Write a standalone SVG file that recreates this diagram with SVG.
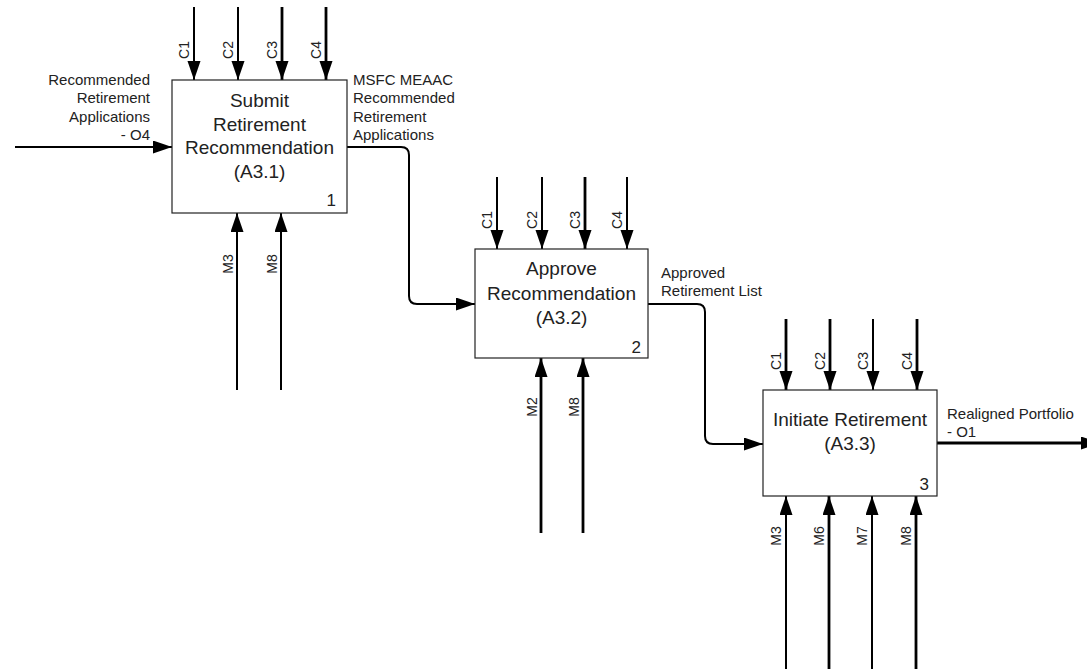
<svg xmlns="http://www.w3.org/2000/svg" width="1087" height="669" viewBox="0 0 1087 669">
<defs>
<marker id="ah" markerUnits="userSpaceOnUse" markerWidth="20" markerHeight="14" refX="19" refY="6.5" orient="auto">
<path d="M0,0 L19,6.5 L0,13 z" fill="#000"/>
</marker>
<style>
.box{fill:#fff;stroke:#222;stroke-width:1.2}
.t{font-family:"Liberation Sans",Arial,sans-serif;font-size:19px;fill:#222;text-anchor:middle}
.n{font-family:"Liberation Sans",Arial,sans-serif;font-size:17px;fill:#222;text-anchor:end}
.l{font-family:"Liberation Sans",Arial,sans-serif;font-size:15px;fill:#222}
.c{font-family:"Liberation Sans",Arial,sans-serif;font-size:14px;fill:#222;text-anchor:middle}
.a{fill:none;stroke:#000;stroke-width:2;marker-end:url(#ah)}
.k{stroke-width:2.8}
</style>
</defs>
<rect width="1087" height="669" fill="#fff"/>

<g id="connectors">
<path class="a" d="M15,147 H172"/>
<path class="a" d="M347,147 H401 Q409,147 409,155 V296 Q409,304 417,304 H475"/>
<path class="a" d="M648,304 H697 Q705,304 705,312 V436 Q705,444 713,444 H763"/>
<path class="a k" d="M937,443 H1100"/>
<!-- box 1 controls -->
<path class="a" d="M194,7 V80"/>
<path class="a" d="M238,7 V80"/>
<path class="a k" d="M282,7 V80"/>
<path class="a k" d="M326,7 V80"/>
<!-- box 1 mechanisms -->
<path class="a" d="M237,390 V213"/>
<path class="a" d="M281,390 V213"/>
<!-- box 2 controls -->
<path class="a" d="M497,177 V249"/>
<path class="a" d="M542,177 V249"/>
<path class="a k" d="M585,177 V249"/>
<path class="a" d="M627,177 V249"/>
<!-- box 2 mechanisms -->
<path class="a k" d="M541,533 V358"/>
<path class="a k" d="M583,533 V358"/>
<!-- box 3 controls -->
<path class="a k" d="M786,319 V390"/>
<path class="a k" d="M830,319 V390"/>
<path class="a" d="M873,319 V390"/>
<path class="a k" d="M917,319 V390"/>
<!-- box 3 mechanisms -->
<path class="a" d="M786,669 V496"/>
<path class="a k" d="M829,669 V496"/>
<path class="a" d="M872,669 V496"/>
<path class="a k" d="M916,669 V496"/>
</g>

<g id="labels">
<text class="l" text-anchor="end"><tspan x="150" y="84.5">Recommended</tspan><tspan x="150" y="103">Retirement</tspan><tspan x="150" y="121.5">Applications</tspan><tspan x="150" y="140">- O4</tspan></text>
<text class="l"><tspan x="353" y="84.5">MSFC MEAAC</tspan><tspan x="353" y="103">Recommended</tspan><tspan x="353" y="121.5">Retirement</tspan><tspan x="353" y="140">Applications</tspan></text>
<text class="l"><tspan x="661" y="278">Approved</tspan><tspan x="661" y="296">Retirement List</tspan></text>
<text class="l"><tspan x="947" y="418.5">Realigned Portfolio</tspan><tspan x="947" y="437">- O1</tspan></text>

<text class="c" transform="translate(189,50) rotate(-90)">C1</text>
<text class="c" transform="translate(233,50) rotate(-90)">C2</text>
<text class="c" transform="translate(277,50) rotate(-90)">C3</text>
<text class="c" transform="translate(321,50) rotate(-90)">C4</text>
<text class="c" transform="translate(233,264) rotate(-90)">M3</text>
<text class="c" transform="translate(277,264) rotate(-90)">M8</text>

<text class="c" transform="translate(492,220) rotate(-90)">C1</text>
<text class="c" transform="translate(537,220) rotate(-90)">C2</text>
<text class="c" transform="translate(580,220) rotate(-90)">C3</text>
<text class="c" transform="translate(622,220) rotate(-90)">C4</text>
<text class="c" transform="translate(537,407) rotate(-90)">M2</text>
<text class="c" transform="translate(579,407) rotate(-90)">M8</text>

<text class="c" transform="translate(781,361) rotate(-90)">C1</text>
<text class="c" transform="translate(825,361) rotate(-90)">C2</text>
<text class="c" transform="translate(868,361) rotate(-90)">C3</text>
<text class="c" transform="translate(912,361) rotate(-90)">C4</text>
<text class="c" transform="translate(781,536) rotate(-90)">M3</text>
<text class="c" transform="translate(824,536) rotate(-90)">M6</text>
<text class="c" transform="translate(867,536) rotate(-90)">M7</text>
<text class="c" transform="translate(911,536) rotate(-90)">M8</text>
</g>

<g id="node1">
<rect class="box" x="172" y="80" width="175" height="133"/>
<text class="t"><tspan x="259.5" y="107">Submit</tspan><tspan x="259.5" y="130.5">Retirement</tspan><tspan x="259.5" y="154">Recommendation</tspan><tspan x="259.5" y="178">(A3.1)</tspan></text>
<text class="n" x="336" y="206">1</text>
</g>

<g id="node2">
<rect class="box" x="475" y="249" width="173" height="109"/>
<text class="t"><tspan x="561.5" y="275">Approve</tspan><tspan x="561.5" y="299.5">Recommendation</tspan><tspan x="561.5" y="324">(A3.2)</tspan></text>
<text class="n" x="641" y="353">2</text>
</g>

<g id="node3">
<rect class="box" x="763" y="390" width="174" height="106"/>
<text class="t"><tspan x="850" y="426">Initiate Retirement</tspan><tspan x="850" y="450">(A3.3)</tspan></text>
<text class="n" x="929" y="490">3</text>
</g>
</svg>
